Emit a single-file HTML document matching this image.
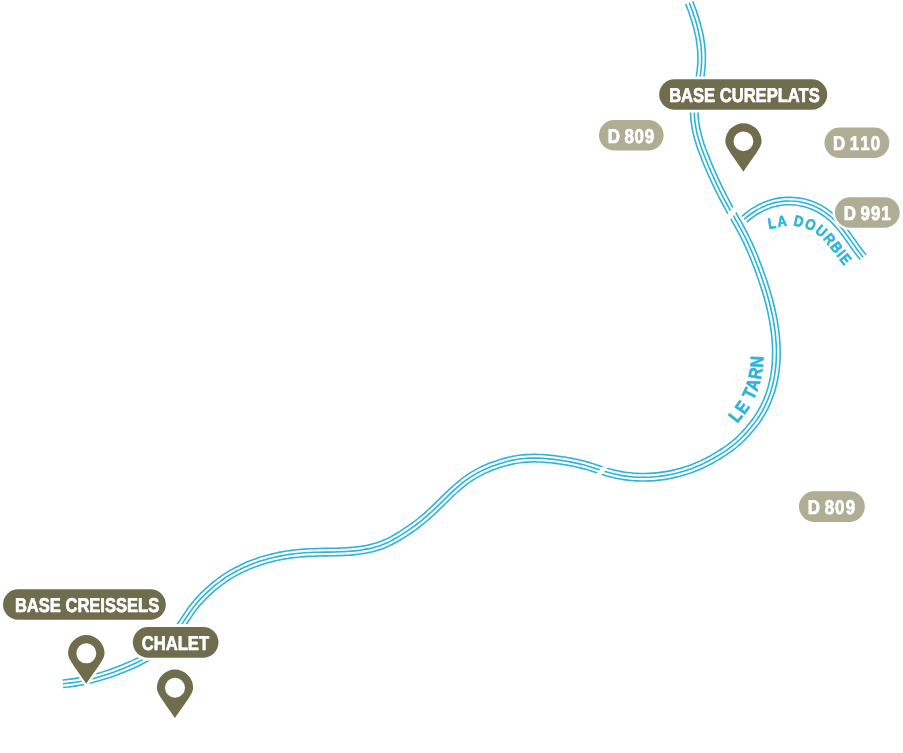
<!DOCTYPE html>
<html lang="fr">
<head>
<meta charset="utf-8">
<title>Carte</title>
<style>
html,body{margin:0;padding:0;background:#fff;}
body{width:903px;height:753px;overflow:hidden;}
svg{display:block;}
</style>
</head>
<body>
<svg width="903" height="753" viewBox="0 0 903 753">
<g fill="none" stroke="#2db4d8" stroke-width="1.60" stroke-linecap="butt" stroke-linejoin="round">
<path d="M685.7 4.1C686.3 5.6 686.9 7.2 687.5 8.7C688.1 10.2 688.7 11.8 689.2 13.3C689.7 14.9 690.3 16.4 690.8 18.0C691.3 19.5 691.8 21.1 692.2 22.6C692.7 24.2 693.2 25.8 693.6 27.4C694.0 28.9 694.4 30.5 694.7 32.1C695.1 33.7 695.5 35.3 695.8 36.9C696.1 38.4 696.4 40.0 696.6 41.6C696.8 43.2 697.1 44.8 697.2 46.4C697.4 48.1 697.6 49.7 697.7 51.3C697.8 52.9 697.9 54.5 697.9 56.1C697.9 57.7 697.9 59.3 697.9 60.9C697.8 62.5 697.8 64.1 697.6 65.7C697.5 67.3 697.4 69.0 697.2 70.6C697.0 72.2 696.8 73.8 696.5 75.4C696.3 77.0 696.0 78.6 695.7 80.2C695.4 81.8 695.1 83.4 694.7 85.0C694.4 86.6 694.0 88.3 693.7 89.9C693.3 91.5 693.0 93.2 692.7 94.9C692.4 96.5 692.0 98.2 691.8 99.9C691.5 101.6 691.3 103.3 691.1 105.1C690.9 106.8 690.7 108.5 690.7 110.3C690.6 112.0 690.6 113.8 690.7 115.6C690.7 117.3 690.9 119.1 691.1 120.8C691.2 122.6 691.5 124.3 691.8 126.0C692.0 127.7 692.4 129.4 692.7 131.1C693.1 132.8 693.5 134.4 693.9 136.1C694.3 137.8 694.8 139.4 695.3 141.1C695.8 142.7 696.3 144.3 696.8 145.9C697.4 147.6 697.9 149.2 698.5 150.8C699.1 152.4 699.7 154.0 700.3 155.5C700.9 157.1 701.5 158.7 702.1 160.2C702.7 161.8 703.4 163.4 704.0 164.9C704.7 166.5 705.3 168.0 706.0 169.6C706.7 171.1 707.3 172.6 708.0 174.2C708.7 175.7 709.4 177.3 710.1 178.8C710.8 180.3 711.5 181.8 712.2 183.4C712.9 184.9 713.6 186.4 714.3 187.9C715.1 189.4 715.8 191.0 716.6 192.5C717.3 194.0 718.1 195.5 718.8 197.0C719.6 198.5 720.4 200.0 721.2 201.5C722.0 202.9 722.8 204.4 723.6 205.9C724.4 207.4 725.2 208.9 726.0 210.3C726.8 211.8 727.6 213.2 728.5 214.7C729.3 216.1 730.1 217.6 730.9 219.0C731.8 220.5 732.6 221.9 733.4 223.4C734.2 224.8 735.0 226.3 735.8 227.7C736.6 229.2 737.4 230.6 738.2 232.1C739.0 233.5 739.7 235.0 740.5 236.5C741.2 237.9 742.0 239.4 742.7 240.9C743.4 242.3 744.1 243.8 744.8 245.3C745.5 246.8 746.2 248.3 746.9 249.8C747.5 251.3 748.2 252.8 748.8 254.3C749.5 255.9 750.1 257.4 750.7 258.9C751.3 260.4 751.9 262.0 752.5 263.5C753.2 265.1 753.7 266.6 754.3 268.1C754.9 269.7 755.5 271.2 756.1 272.8C756.6 274.4 757.2 275.9 757.7 277.5C758.3 279.0 758.8 280.6 759.3 282.2C759.9 283.7 760.4 285.3 760.9 286.9C761.4 288.4 761.9 290.0 762.4 291.6C762.9 293.1 763.3 294.7 763.8 296.3C764.2 297.9 764.7 299.5 765.1 301.1C765.5 302.7 766.0 304.2 766.3 305.8C766.7 307.4 767.1 309.0 767.5 310.6C767.9 312.2 768.2 313.8 768.5 315.4C768.9 317.1 769.2 318.7 769.5 320.3C769.8 321.9 770.1 323.5 770.3 325.1C770.6 326.7 770.8 328.4 771.0 330.0C771.3 331.6 771.5 333.2 771.6 334.9C771.8 336.5 772.0 338.1 772.1 339.7C772.2 341.4 772.3 343.0 772.4 344.6C772.5 346.2 772.6 347.9 772.6 349.5C772.6 351.1 772.6 352.8 772.6 354.4C772.6 356.0 772.6 357.6 772.5 359.3C772.4 360.9 772.3 362.5 772.2 364.1C772.1 365.7 771.9 367.3 771.7 369.0C771.5 370.6 771.3 372.2 771.0 373.8C770.8 375.4 770.5 377.0 770.2 378.5C769.9 380.1 769.5 381.7 769.1 383.3C768.7 384.8 768.3 386.4 767.9 387.9C767.4 389.5 766.9 391.0 766.4 392.6C765.9 394.1 765.3 395.6 764.7 397.1C764.2 398.6 763.5 400.1 762.9 401.5C762.2 403.0 761.5 404.5 760.8 405.9C760.1 407.3 759.3 408.7 758.5 410.1C757.7 411.5 756.9 412.9 756.0 414.2C755.2 415.6 754.3 416.9 753.3 418.2C752.4 419.5 751.4 420.8 750.4 422.1C749.4 423.3 748.3 424.6 747.3 425.8C746.2 427.1 745.2 428.4 744.1 429.6C743.0 430.8 741.9 432.0 740.8 433.2C739.7 434.3 738.6 435.5 737.4 436.6C736.3 437.7 735.1 438.8 733.9 439.8C732.6 440.9 731.4 441.9 730.1 442.9C728.8 443.9 727.5 444.8 726.2 445.8C724.9 446.7 723.6 447.6 722.2 448.5C720.9 449.4 719.5 450.3 718.1 451.2C716.7 452.1 715.3 452.9 713.9 453.7C712.5 454.6 711.1 455.4 709.7 456.2C708.2 456.9 706.8 457.7 705.3 458.4C703.9 459.2 702.4 459.9 701.0 460.6C699.5 461.3 698.0 461.9 696.5 462.6C695.0 463.2 693.5 463.8 692.0 464.4C690.5 465.0 689.0 465.5 687.4 466.1C685.9 466.6 684.3 467.1 682.8 467.6C681.2 468.0 679.7 468.5 678.1 468.9C676.5 469.3 675.0 469.7 673.4 470.1C671.8 470.5 670.2 470.8 668.6 471.1C667.0 471.4 665.4 471.7 663.8 471.9C662.2 472.2 660.6 472.4 659.0 472.6C657.4 472.8 655.8 473.0 654.2 473.1C652.5 473.2 650.9 473.3 649.3 473.4C647.7 473.5 646.1 473.5 644.4 473.5C642.8 473.6 641.2 473.5 639.6 473.5C638.0 473.4 636.3 473.4 634.7 473.3C633.1 473.1 631.5 473.0 629.9 472.8C628.3 472.6 626.7 472.4 625.1 472.2C623.5 472.0 621.9 471.7 620.3 471.4C618.7 471.1 617.1 470.7 615.6 470.4C614.0 470.0 612.4 469.6 610.8 469.2C609.2 468.8 607.7 468.3 606.1 467.9C604.5 467.4 603.0 466.9 601.4 466.4C599.8 465.9 598.2 465.4 596.7 464.9C595.1 464.4 593.5 463.8 591.8 463.3C590.2 462.8 588.6 462.3 586.9 461.9C585.3 461.4 583.6 461.0 582.0 460.6C580.3 460.2 578.7 459.8 577.0 459.4C575.4 459.1 573.7 458.7 572.0 458.4C570.4 458.1 568.7 457.8 567.0 457.5C565.4 457.2 563.7 457.0 562.0 456.7C560.3 456.5 558.7 456.2 557.0 456.0C555.3 455.8 553.6 455.6 551.9 455.4C550.2 455.2 548.6 455.0 546.9 454.9C545.2 454.7 543.5 454.6 541.8 454.5C540.0 454.5 538.3 454.4 536.6 454.4C534.9 454.3 533.2 454.3 531.5 454.4C529.8 454.4 528.0 454.5 526.3 454.6C524.6 454.7 522.9 454.8 521.1 455.0C519.4 455.2 517.7 455.5 516.0 455.8C514.3 456.0 512.6 456.4 510.9 456.7C509.2 457.1 507.6 457.5 505.9 457.9C504.2 458.3 502.6 458.8 500.9 459.3C499.3 459.8 497.7 460.3 496.0 460.9C494.4 461.4 492.8 462.0 491.2 462.6C489.6 463.2 488.0 463.8 486.4 464.5C484.8 465.2 483.3 465.9 481.7 466.6C480.2 467.3 478.6 468.1 477.1 468.9C475.6 469.7 474.1 470.6 472.6 471.4C471.1 472.3 469.6 473.2 468.2 474.2C466.7 475.1 465.3 476.1 463.9 477.2C462.5 478.2 461.2 479.2 459.8 480.3C458.5 481.4 457.2 482.4 455.9 483.6C454.6 484.7 453.3 485.8 452.0 486.9C450.8 488.1 449.5 489.2 448.3 490.4C447.1 491.5 445.9 492.7 444.6 493.9C443.4 495.0 442.2 496.2 441.0 497.4C439.9 498.6 438.7 499.7 437.5 500.9C436.3 502.1 435.1 503.2 433.9 504.4C432.7 505.5 431.5 506.7 430.3 507.8C429.1 508.9 427.9 510.1 426.7 511.2C425.5 512.3 424.3 513.3 423.1 514.4C421.8 515.5 420.6 516.5 419.3 517.5C418.0 518.6 416.7 519.6 415.4 520.6C414.1 521.5 412.8 522.5 411.5 523.5C410.2 524.4 408.8 525.4 407.5 526.3C406.1 527.2 404.8 528.2 403.4 529.1C402.0 530.0 400.6 530.9 399.3 531.8C397.9 532.6 396.5 533.5 395.1 534.3C393.7 535.1 392.3 535.9 390.9 536.7C389.4 537.5 388.0 538.2 386.6 538.9C385.1 539.5 383.7 540.2 382.2 540.8C380.7 541.4 379.2 541.9 377.7 542.4C376.2 542.9 374.7 543.4 373.1 543.8C371.6 544.2 370.0 544.6 368.4 544.9C366.9 545.3 365.3 545.6 363.7 545.9C362.1 546.1 360.5 546.4 358.9 546.6C357.3 546.8 355.7 547.0 354.0 547.2C352.4 547.3 350.8 547.5 349.2 547.6C347.5 547.7 345.9 547.8 344.2 547.9C342.6 548.0 341.0 548.0 339.3 548.1C337.7 548.2 336.0 548.2 334.4 548.2C332.7 548.3 331.0 548.3 329.4 548.3C327.7 548.3 326.0 548.4 324.4 548.4C322.7 548.4 321.0 548.4 319.4 548.5C317.7 548.5 316.0 548.5 314.3 548.6C312.6 548.6 310.9 548.7 309.2 548.8C307.6 548.9 305.9 549.0 304.2 549.1C302.5 549.2 300.8 549.3 299.1 549.5C297.4 549.7 295.7 549.8 294.0 550.0C292.3 550.2 290.7 550.5 289.0 550.7C287.3 550.9 285.6 551.2 283.9 551.5C282.3 551.8 280.6 552.1 278.9 552.4C277.2 552.8 275.6 553.1 273.9 553.5C272.3 553.9 270.6 554.3 269.0 554.7C267.3 555.1 265.7 555.6 264.0 556.1C262.4 556.6 260.8 557.1 259.1 557.6C257.5 558.1 255.9 558.7 254.3 559.2C252.7 559.8 251.1 560.4 249.5 561.1C247.9 561.7 246.3 562.3 244.8 563.0C243.2 563.7 241.6 564.4 240.1 565.2C238.5 565.9 237.0 566.7 235.5 567.5C234.0 568.3 232.5 569.1 231.0 569.9C229.5 570.8 228.0 571.7 226.6 572.6C225.1 573.5 223.7 574.4 222.2 575.4C220.8 576.3 219.4 577.3 218.0 578.3C216.7 579.4 215.3 580.4 214.0 581.5C212.6 582.5 211.3 583.6 210.0 584.8C208.7 585.9 207.4 587.0 206.2 588.2C204.9 589.3 203.7 590.5 202.5 591.7C201.2 592.9 200.0 594.1 198.8 595.3C197.7 596.5 196.5 597.8 195.3 599.1C194.2 600.4 193.1 601.7 192.0 603.0C190.9 604.4 189.8 605.8 188.8 607.2C187.8 608.6 186.9 610.0 185.9 611.4C184.9 612.8 184.0 614.2 183.1 615.6C182.2 617.0 181.3 618.3 180.4 619.7C179.4 621.0 178.5 622.4 177.6 623.7C176.6 625.0 175.6 626.3 174.6 627.5C173.6 628.8 172.6 630.1 171.5 631.3C170.5 632.5 169.4 633.7 168.3 634.9C167.2 636.1 166.0 637.2 164.9 638.4C163.8 639.5 162.6 640.6 161.4 641.7C160.2 642.8 159.0 643.9 157.7 644.9C156.5 645.9 155.2 646.9 154.0 647.9C152.7 648.9 151.4 649.8 150.0 650.7C148.7 651.6 147.4 652.5 146.0 653.4C144.6 654.2 143.3 655.0 141.8 655.8C140.4 656.5 139.0 657.3 137.6 658.0C136.1 658.7 134.6 659.4 133.1 660.1C131.6 660.8 130.1 661.5 128.6 662.1C127.1 662.8 125.6 663.4 124.1 664.1C122.6 664.7 121.0 665.3 119.5 665.9C118.0 666.5 116.4 667.1 114.9 667.7C113.4 668.3 111.8 668.8 110.3 669.4C108.7 669.9 107.2 670.5 105.6 671.0C104.1 671.5 102.5 672.0 100.9 672.5C99.4 672.9 97.8 673.4 96.2 673.8C94.6 674.3 93.0 674.7 91.5 675.1C89.9 675.5 88.3 675.9 86.7 676.2C85.1 676.6 83.5 676.9 81.9 677.2C80.3 677.6 78.7 677.9 77.1 678.1C75.5 678.4 73.8 678.7 72.2 678.9C70.6 679.1 69.0 679.3 67.4 679.5C65.7 679.7 64.1 679.8 62.5 680.0"/>
<path d="M689.2 2.7C689.8 4.3 690.4 5.8 691.0 7.4C691.6 8.9 692.2 10.5 692.7 12.1C693.3 13.6 693.8 15.2 694.3 16.8C694.9 18.4 695.4 20.0 695.8 21.6C696.3 23.2 696.8 24.8 697.2 26.4C697.6 28.0 698.0 29.6 698.4 31.2C698.8 32.9 699.1 34.5 699.4 36.1C699.8 37.8 700.0 39.4 700.3 41.1C700.6 42.7 700.8 44.4 701.0 46.0C701.2 47.7 701.3 49.3 701.4 51.0C701.5 52.7 701.6 54.3 701.6 56.0C701.7 57.7 701.7 59.3 701.6 61.0C701.6 62.7 701.5 64.3 701.4 66.0C701.3 67.7 701.1 69.3 700.9 71.0C700.7 72.6 700.5 74.3 700.2 75.9C700.0 77.6 699.7 79.2 699.4 80.9C699.1 82.5 698.7 84.1 698.4 85.8C698.1 87.4 697.7 89.0 697.4 90.7C697.0 92.3 696.7 93.9 696.4 95.6C696.0 97.2 695.7 98.9 695.5 100.5C695.2 102.1 695.0 103.8 694.8 105.5C694.6 107.1 694.5 108.8 694.4 110.4C694.4 112.1 694.4 113.8 694.4 115.4C694.5 117.1 694.6 118.8 694.8 120.4C695.0 122.1 695.2 123.7 695.5 125.4C695.7 127.0 696.1 128.7 696.4 130.3C696.7 131.9 697.1 133.6 697.5 135.2C698.0 136.8 698.4 138.4 698.9 140.0C699.4 141.6 699.9 143.2 700.4 144.8C700.9 146.4 701.5 147.9 702.0 149.5C702.6 151.1 703.2 152.6 703.8 154.2C704.4 155.7 705.0 157.3 705.6 158.8C706.2 160.4 706.9 161.9 707.5 163.5C708.1 165.0 708.8 166.5 709.4 168.1C710.1 169.6 710.8 171.1 711.4 172.7C712.1 174.2 712.8 175.7 713.5 177.2C714.2 178.8 714.9 180.3 715.6 181.8C716.3 183.3 717.0 184.8 717.7 186.3C718.4 187.8 719.2 189.3 719.9 190.8C720.7 192.3 721.4 193.8 722.2 195.3C722.9 196.7 723.7 198.2 724.5 199.7C725.3 201.2 726.1 202.6 726.9 204.1C727.6 205.6 728.5 207.0 729.3 208.5C730.1 209.9 730.9 211.4 731.7 212.8C732.6 214.3 733.4 215.7 734.2 217.2C735.0 218.6 735.8 220.1 736.7 221.6C737.5 223.0 738.3 224.5 739.1 225.9C739.9 227.4 740.7 228.8 741.5 230.3C742.3 231.8 743.1 233.3 743.8 234.7C744.6 236.2 745.3 237.7 746.1 239.2C746.8 240.7 747.5 242.2 748.2 243.7C748.9 245.2 749.6 246.8 750.3 248.3C751.0 249.8 751.6 251.3 752.3 252.9C752.9 254.4 753.6 256.0 754.2 257.5C754.8 259.0 755.4 260.6 756.0 262.2C756.6 263.7 757.2 265.3 757.8 266.8C758.4 268.4 759.0 269.9 759.6 271.5C760.2 273.1 760.7 274.6 761.3 276.2C761.8 277.8 762.4 279.4 762.9 281.0C763.4 282.5 764.0 284.1 764.5 285.7C765.0 287.3 765.5 288.9 766.0 290.5C766.5 292.1 766.9 293.7 767.4 295.3C767.9 296.9 768.3 298.5 768.7 300.1C769.2 301.7 769.6 303.3 770.0 304.9C770.4 306.6 770.8 308.2 771.1 309.8C771.5 311.4 771.9 313.1 772.2 314.7C772.5 316.3 772.9 318.0 773.2 319.6C773.5 321.2 773.8 322.9 774.0 324.5C774.3 326.2 774.5 327.8 774.8 329.5C775.0 331.1 775.2 332.8 775.4 334.4C775.5 336.1 775.7 337.8 775.8 339.4C776.0 341.1 776.1 342.8 776.2 344.4C776.3 346.1 776.3 347.8 776.4 349.4C776.4 351.1 776.4 352.8 776.4 354.4C776.4 356.1 776.3 357.8 776.2 359.4C776.2 361.1 776.1 362.8 775.9 364.4C775.8 366.1 775.6 367.7 775.4 369.4C775.2 371.1 775.0 372.7 774.7 374.4C774.5 376.0 774.2 377.6 773.9 379.3C773.5 380.9 773.2 382.5 772.8 384.2C772.4 385.8 771.9 387.4 771.5 389.0C771.0 390.6 770.5 392.2 770.0 393.8C769.4 395.3 768.8 396.9 768.2 398.5C767.6 400.0 767.0 401.6 766.3 403.1C765.6 404.6 764.9 406.1 764.1 407.6C763.4 409.1 762.6 410.5 761.8 412.0C760.9 413.4 760.1 414.9 759.2 416.3C758.3 417.7 757.3 419.0 756.4 420.4C755.4 421.8 754.4 423.1 753.3 424.4C752.3 425.7 751.2 427.0 750.2 428.3C749.1 429.5 748.0 430.8 746.9 432.1C745.8 433.3 744.7 434.5 743.5 435.8C742.4 437.0 741.2 438.2 740.0 439.3C738.8 440.5 737.6 441.6 736.3 442.7C735.0 443.7 733.7 444.8 732.4 445.8C731.1 446.8 729.8 447.8 728.4 448.8C727.1 449.8 725.7 450.7 724.3 451.7C722.9 452.6 721.5 453.5 720.1 454.4C718.7 455.3 717.3 456.1 715.8 457.0C714.4 457.8 712.9 458.6 711.5 459.4C710.0 460.3 708.5 461.0 707.1 461.8C705.6 462.5 704.1 463.3 702.6 464.0C701.0 464.7 699.5 465.4 698.0 466.0C696.5 466.7 694.9 467.3 693.3 467.9C691.8 468.5 690.2 469.1 688.6 469.6C687.1 470.2 685.5 470.7 683.9 471.2C682.3 471.6 680.7 472.1 679.1 472.5C677.5 473.0 675.8 473.4 674.2 473.7C672.6 474.1 671.0 474.5 669.3 474.8C667.7 475.1 666.0 475.4 664.4 475.6C662.8 475.9 661.1 476.1 659.4 476.3C657.8 476.5 656.1 476.7 654.5 476.8C652.8 477.0 651.1 477.1 649.5 477.2C647.8 477.2 646.1 477.3 644.5 477.3C642.8 477.3 641.1 477.3 639.5 477.2C637.8 477.2 636.1 477.1 634.5 477.0C632.8 476.9 631.1 476.7 629.5 476.6C627.8 476.4 626.2 476.2 624.5 475.9C622.9 475.7 621.2 475.4 619.6 475.1C618.0 474.7 616.3 474.4 614.7 474.0C613.1 473.6 611.5 473.2 609.9 472.8C608.2 472.4 606.6 471.9 605.0 471.5C603.4 471.0 601.8 470.5 600.2 470.0C598.7 469.5 597.1 469.0 595.5 468.4C593.9 467.9 592.3 467.4 590.7 466.9C589.1 466.4 587.5 466.0 585.9 465.5C584.3 465.1 582.7 464.6 581.1 464.2C579.5 463.8 577.8 463.5 576.2 463.1C574.6 462.8 572.9 462.4 571.3 462.1C569.7 461.8 568.0 461.5 566.4 461.2C564.7 460.9 563.1 460.7 561.4 460.4C559.8 460.2 558.1 459.9 556.5 459.7C554.8 459.5 553.2 459.3 551.5 459.1C549.9 458.9 548.2 458.8 546.5 458.6C544.9 458.5 543.2 458.4 541.6 458.3C539.9 458.2 538.2 458.1 536.6 458.1C534.9 458.1 533.2 458.1 531.6 458.1C529.9 458.1 528.2 458.2 526.6 458.3C524.9 458.4 523.2 458.6 521.6 458.8C519.9 459.0 518.3 459.2 516.6 459.5C515.0 459.7 513.3 460.1 511.7 460.4C510.1 460.7 508.4 461.1 506.8 461.5C505.2 462.0 503.6 462.4 502.0 462.9C500.4 463.4 498.8 463.9 497.2 464.4C495.7 464.9 494.1 465.5 492.5 466.1C491.0 466.7 489.4 467.3 487.9 468.0C486.4 468.6 484.8 469.3 483.3 470.0C481.8 470.7 480.3 471.5 478.8 472.2C477.4 473.0 475.9 473.8 474.5 474.7C473.0 475.5 471.6 476.4 470.2 477.3C468.8 478.2 467.5 479.2 466.1 480.2C464.8 481.2 463.5 482.2 462.2 483.2C460.8 484.3 459.6 485.3 458.3 486.4C457.0 487.5 455.8 488.6 454.5 489.7C453.3 490.8 452.1 492.0 450.9 493.1C449.7 494.3 448.5 495.4 447.3 496.6C446.1 497.7 444.9 498.9 443.7 500.1C442.5 501.2 441.3 502.4 440.1 503.6C438.9 504.7 437.7 505.9 436.5 507.1C435.3 508.2 434.1 509.4 432.9 510.5C431.7 511.7 430.5 512.8 429.2 513.9C428.0 515.1 426.8 516.2 425.5 517.2C424.2 518.3 422.9 519.4 421.7 520.4C420.4 521.5 419.0 522.5 417.7 523.5C416.4 524.5 415.0 525.5 413.7 526.5C412.3 527.5 411.0 528.5 409.6 529.4C408.2 530.3 406.9 531.3 405.5 532.2C404.1 533.1 402.7 534.0 401.3 534.9C399.9 535.8 398.4 536.7 397.0 537.5C395.6 538.4 394.1 539.2 392.6 540.0C391.2 540.8 389.7 541.5 388.2 542.3C386.7 543.0 385.1 543.6 383.6 544.3C382.0 544.9 380.5 545.4 378.9 546.0C377.3 546.5 375.7 547.0 374.1 547.4C372.5 547.8 370.9 548.2 369.2 548.6C367.6 548.9 366.0 549.3 364.3 549.5C362.7 549.8 361.0 550.1 359.4 550.3C357.7 550.5 356.1 550.7 354.4 550.9C352.8 551.1 351.1 551.2 349.4 551.3C347.8 551.4 346.1 551.5 344.4 551.6C342.8 551.7 341.1 551.8 339.4 551.8C337.8 551.9 336.1 551.9 334.4 552.0C332.8 552.0 331.1 552.0 329.4 552.1C327.8 552.1 326.1 552.1 324.4 552.1C322.8 552.2 321.1 552.2 319.4 552.2C317.8 552.3 316.1 552.3 314.4 552.3C312.8 552.4 311.1 552.5 309.4 552.5C307.8 552.6 306.1 552.7 304.4 552.8C302.8 552.9 301.1 553.1 299.4 553.2C297.8 553.4 296.1 553.6 294.5 553.8C292.8 554.0 291.2 554.2 289.5 554.4C287.9 554.7 286.2 554.9 284.6 555.2C282.9 555.5 281.3 555.8 279.6 556.1C278.0 556.4 276.4 556.8 274.8 557.2C273.1 557.5 271.5 557.9 269.9 558.3C268.3 558.8 266.7 559.2 265.1 559.7C263.5 560.1 261.9 560.6 260.3 561.1C258.7 561.7 257.1 562.2 255.6 562.8C254.0 563.3 252.4 563.9 250.9 564.5C249.3 565.2 247.8 565.8 246.3 566.5C244.7 567.1 243.2 567.8 241.7 568.5C240.2 569.3 238.7 570.0 237.2 570.8C235.8 571.6 234.3 572.4 232.8 573.2C231.4 574.0 230.0 574.9 228.5 575.7C227.1 576.6 225.7 577.5 224.3 578.5C223.0 579.4 221.6 580.4 220.3 581.4C218.9 582.3 217.6 583.4 216.3 584.4C215.0 585.4 213.7 586.5 212.5 587.6C211.2 588.7 209.9 589.8 208.7 590.9C207.5 592.1 206.3 593.2 205.1 594.4C203.9 595.5 202.7 596.7 201.5 597.9C200.4 599.1 199.2 600.3 198.1 601.6C197.0 602.8 195.9 604.1 194.9 605.4C193.9 606.7 192.8 608.0 191.9 609.4C190.9 610.7 189.9 612.1 189.0 613.5C188.1 614.9 187.2 616.3 186.2 617.6C185.3 619.0 184.4 620.4 183.5 621.8C182.5 623.2 181.6 624.5 180.6 625.9C179.6 627.2 178.6 628.6 177.5 629.9C176.5 631.2 175.4 632.5 174.4 633.7C173.3 635.0 172.2 636.2 171.0 637.5C169.9 638.7 168.7 639.9 167.5 641.0C166.4 642.2 165.1 643.4 163.9 644.5C162.7 645.6 161.4 646.7 160.1 647.8C158.9 648.8 157.6 649.9 156.2 650.9C154.9 651.9 153.5 652.9 152.2 653.8C150.8 654.8 149.4 655.7 148.0 656.5C146.6 657.4 145.1 658.3 143.6 659.1C142.2 659.9 140.7 660.6 139.2 661.4C137.7 662.1 136.2 662.8 134.7 663.5C133.2 664.2 131.6 664.9 130.1 665.5C128.6 666.2 127.1 666.9 125.5 667.5C124.0 668.2 122.4 668.8 120.9 669.4C119.3 670.0 117.8 670.6 116.2 671.2C114.7 671.8 113.1 672.4 111.5 672.9C109.9 673.5 108.4 674.0 106.8 674.5C105.2 675.1 103.6 675.6 102.0 676.0C100.4 676.5 98.8 677.0 97.2 677.4C95.6 677.9 94.0 678.3 92.4 678.7C90.8 679.1 89.1 679.5 87.5 679.9C85.9 680.3 84.2 680.6 82.6 680.9C81.0 681.2 79.3 681.6 77.7 681.8C76.0 682.1 74.4 682.4 72.7 682.6C71.1 682.8 69.4 683.0 67.8 683.2C66.1 683.4 64.5 683.5 62.8 683.7"/>
<path d="M692.7 1.3C693.3 2.9 693.9 4.5 694.5 6.0C695.1 7.6 695.7 9.2 696.3 10.8C696.8 12.4 697.4 14.0 697.9 15.6C698.4 17.2 698.9 18.9 699.4 20.5C699.9 22.1 700.4 23.8 700.8 25.4C701.3 27.1 701.7 28.7 702.1 30.4C702.4 32.1 702.8 33.7 703.1 35.4C703.4 37.1 703.7 38.8 704.0 40.5C704.3 42.2 704.5 43.9 704.7 45.6C704.9 47.3 705.0 49.0 705.2 50.8C705.3 52.5 705.4 54.2 705.4 55.9C705.4 57.7 705.4 59.4 705.4 61.1C705.3 62.8 705.3 64.6 705.1 66.3C705.0 68.0 704.8 69.7 704.6 71.4C704.5 73.1 704.2 74.8 704.0 76.5C703.7 78.2 703.4 79.9 703.1 81.6C702.7 83.2 702.4 84.9 702.1 86.5C701.7 88.2 701.4 89.8 701.0 91.4C700.7 93.1 700.3 94.7 700.0 96.3C699.7 97.9 699.4 99.5 699.2 101.1C698.9 102.7 698.7 104.3 698.5 105.9C698.4 107.4 698.2 109.0 698.2 110.6C698.1 112.2 698.1 113.7 698.2 115.3C698.2 116.9 698.3 118.5 698.5 120.0C698.7 121.6 698.9 123.2 699.2 124.8C699.4 126.4 699.7 127.9 700.1 129.5C700.4 131.1 700.8 132.7 701.2 134.2C701.6 135.8 702.0 137.4 702.5 138.9C702.9 140.5 703.4 142.0 703.9 143.6C704.5 145.1 705.0 146.7 705.5 148.2C706.1 149.8 706.7 151.3 707.3 152.8C707.8 154.4 708.5 155.9 709.1 157.4C709.7 159.0 710.3 160.5 711.0 162.0C711.6 163.6 712.2 165.1 712.9 166.6C713.5 168.1 714.2 169.6 714.9 171.2C715.5 172.7 716.2 174.2 716.9 175.7C717.6 177.2 718.3 178.7 719.0 180.2C719.7 181.7 720.4 183.2 721.1 184.7C721.8 186.2 722.5 187.6 723.3 189.1C724.0 190.6 724.8 192.1 725.5 193.6C726.3 195.0 727.0 196.5 727.8 197.9C728.6 199.4 729.4 200.9 730.1 202.3C730.9 203.8 731.7 205.2 732.5 206.7C733.4 208.1 734.2 209.5 735.0 211.0C735.8 212.4 736.6 213.9 737.5 215.3C738.3 216.8 739.1 218.3 739.9 219.7C740.8 221.2 741.6 222.6 742.4 224.1C743.2 225.6 744.0 227.1 744.8 228.5C745.6 230.0 746.4 231.5 747.2 233.0C747.9 234.5 748.7 236.0 749.4 237.6C750.2 239.1 750.9 240.6 751.6 242.1C752.3 243.7 753.0 245.2 753.7 246.8C754.4 248.3 755.1 249.9 755.7 251.4C756.4 253.0 757.0 254.5 757.7 256.1C758.3 257.7 758.9 259.2 759.5 260.8C760.1 262.4 760.7 263.9 761.3 265.5C761.9 267.1 762.5 268.6 763.1 270.2C763.7 271.8 764.2 273.4 764.8 275.0C765.4 276.6 765.9 278.2 766.5 279.8C767.0 281.3 767.5 282.9 768.0 284.6C768.6 286.2 769.1 287.8 769.6 289.4C770.0 291.0 770.5 292.6 771.0 294.2C771.5 295.9 771.9 297.5 772.4 299.1C772.8 300.8 773.2 302.4 773.6 304.0C774.0 305.7 774.4 307.3 774.8 309.0C775.2 310.6 775.5 312.3 775.9 313.9C776.2 315.6 776.6 317.3 776.9 318.9C777.2 320.6 777.5 322.3 777.7 323.9C778.0 325.6 778.2 327.3 778.5 329.0C778.7 330.7 778.9 332.4 779.1 334.0C779.3 335.7 779.4 337.4 779.6 339.1C779.7 340.8 779.8 342.5 779.9 344.2C780.0 345.9 780.1 347.6 780.1 349.3C780.1 351.0 780.2 352.8 780.1 354.5C780.1 356.2 780.1 357.9 780.0 359.6C779.9 361.3 779.8 363.0 779.7 364.7C779.5 366.4 779.4 368.1 779.2 369.8C778.9 371.5 778.7 373.2 778.4 374.9C778.2 376.6 777.9 378.3 777.5 380.0C777.2 381.7 776.8 383.4 776.4 385.1C776.0 386.7 775.5 388.4 775.1 390.0C774.6 391.7 774.1 393.3 773.5 395.0C773.0 396.6 772.4 398.2 771.7 399.8C771.1 401.4 770.4 403.0 769.7 404.6C769.0 406.2 768.3 407.7 767.5 409.3C766.7 410.8 765.9 412.4 765.0 413.9C764.2 415.4 763.3 416.8 762.3 418.3C761.4 419.8 760.4 421.2 759.4 422.6C758.4 424.0 757.3 425.4 756.3 426.7C755.2 428.1 754.1 429.4 753.0 430.7C751.9 432.0 750.9 433.3 749.7 434.5C748.6 435.8 747.4 437.1 746.3 438.3C745.1 439.6 743.9 440.8 742.6 442.0C741.3 443.2 740.1 444.4 738.7 445.5C737.4 446.6 736.1 447.7 734.7 448.8C733.4 449.8 732.0 450.9 730.6 451.9C729.2 452.9 727.8 453.8 726.4 454.8C725.0 455.7 723.5 456.6 722.1 457.5C720.6 458.5 719.2 459.3 717.7 460.2C716.3 461.1 714.8 461.9 713.3 462.7C711.8 463.6 710.3 464.4 708.8 465.1C707.2 465.9 705.7 466.7 704.1 467.4C702.6 468.1 701.0 468.8 699.5 469.5C697.9 470.1 696.3 470.8 694.7 471.4C693.1 472.0 691.5 472.6 689.9 473.2C688.2 473.7 686.6 474.2 685.0 474.7C683.3 475.2 681.7 475.7 680.0 476.2C678.4 476.6 676.7 477.0 675.1 477.4C673.4 477.8 671.7 478.1 670.0 478.5C668.4 478.8 666.7 479.1 665.0 479.4C663.3 479.6 661.6 479.9 659.9 480.1C658.2 480.3 656.5 480.4 654.8 480.6C653.1 480.7 651.4 480.8 649.6 480.9C647.9 481.0 646.2 481.0 644.5 481.0C642.8 481.1 641.1 481.0 639.4 481.0C637.6 480.9 635.9 480.9 634.2 480.7C632.5 480.6 630.8 480.5 629.1 480.3C627.4 480.1 625.7 479.9 624.0 479.6C622.3 479.4 620.6 479.1 618.9 478.7C617.2 478.4 615.5 478.1 613.9 477.7C612.2 477.3 610.5 476.9 608.9 476.4C607.2 476.0 605.6 475.5 604.0 475.1C602.3 474.6 600.7 474.1 599.1 473.6C597.5 473.1 595.9 472.5 594.3 472.0C592.7 471.5 591.2 471.0 589.6 470.5C588.0 470.0 586.5 469.6 584.9 469.1C583.4 468.7 581.8 468.3 580.2 467.9C578.6 467.5 577.0 467.1 575.4 466.8C573.8 466.4 572.2 466.1 570.6 465.8C569.0 465.5 567.4 465.2 565.8 464.9C564.1 464.6 562.5 464.4 560.9 464.1C559.3 463.9 557.6 463.6 556.0 463.4C554.4 463.2 552.7 463.0 551.1 462.8C549.5 462.7 547.9 462.5 546.2 462.4C544.6 462.2 543.0 462.1 541.4 462.0C539.7 461.9 538.1 461.9 536.5 461.9C534.9 461.8 533.2 461.8 531.6 461.9C530.0 461.9 528.4 462.0 526.8 462.1C525.2 462.2 523.6 462.3 522.0 462.5C520.4 462.7 518.8 462.9 517.2 463.2C515.6 463.4 514.1 463.7 512.5 464.1C510.9 464.4 509.3 464.8 507.8 465.2C506.2 465.6 504.6 466.0 503.1 466.5C501.5 467.0 500.0 467.4 498.4 468.0C496.9 468.5 495.4 469.0 493.9 469.6C492.3 470.2 490.8 470.8 489.4 471.4C487.9 472.0 486.4 472.7 484.9 473.4C483.5 474.1 482.0 474.8 480.6 475.6C479.2 476.3 477.8 477.1 476.4 477.9C475.0 478.7 473.6 479.6 472.3 480.5C471.0 481.3 469.6 482.3 468.3 483.2C467.0 484.2 465.8 485.1 464.5 486.1C463.2 487.2 462.0 488.2 460.7 489.3C459.5 490.3 458.3 491.4 457.1 492.5C455.8 493.6 454.6 494.7 453.4 495.8C452.2 497.0 451.1 498.1 449.9 499.3C448.7 500.4 447.5 501.6 446.3 502.7C445.1 503.9 443.9 505.1 442.7 506.2C441.5 507.4 440.3 508.6 439.1 509.8C437.9 510.9 436.7 512.1 435.5 513.3C434.3 514.4 433.0 515.6 431.8 516.7C430.5 517.8 429.2 519.0 427.9 520.1C426.6 521.2 425.3 522.3 424.0 523.4C422.7 524.4 421.3 525.5 420.0 526.5C418.6 527.5 417.3 528.6 415.9 529.6C414.5 530.5 413.1 531.5 411.7 532.5C410.3 533.5 408.9 534.4 407.5 535.3C406.1 536.3 404.7 537.2 403.3 538.1C401.8 539.0 400.4 539.9 398.9 540.8C397.4 541.6 395.9 542.5 394.4 543.3C392.9 544.1 391.4 544.9 389.8 545.6C388.2 546.4 386.6 547.1 385.0 547.7C383.4 548.4 381.7 549.0 380.1 549.5C378.4 550.1 376.7 550.6 375.1 551.0C373.4 551.5 371.7 551.9 370.0 552.2C368.4 552.6 366.7 552.9 365.0 553.2C363.3 553.5 361.6 553.8 359.9 554.0C358.2 554.3 356.5 554.4 354.8 554.6C353.1 554.8 351.4 554.9 349.7 555.1C348.0 555.2 346.3 555.3 344.6 555.4C342.9 555.5 341.2 555.5 339.6 555.6C337.9 555.6 336.2 555.7 334.5 555.7C332.8 555.8 331.2 555.8 329.5 555.8C327.8 555.8 326.1 555.9 324.5 555.9C322.8 555.9 321.2 555.9 319.5 556.0C317.8 556.0 316.2 556.0 314.5 556.1C312.9 556.1 311.2 556.2 309.6 556.3C308.0 556.4 306.3 556.4 304.7 556.6C303.1 556.7 301.4 556.8 299.8 557.0C298.2 557.1 296.5 557.3 294.9 557.5C293.3 557.7 291.7 557.9 290.0 558.1C288.4 558.4 286.8 558.6 285.2 558.9C283.6 559.2 282.0 559.5 280.4 559.8C278.8 560.1 277.2 560.5 275.6 560.8C274.0 561.2 272.4 561.6 270.8 562.0C269.3 562.4 267.7 562.8 266.1 563.3C264.6 563.7 263.0 564.2 261.4 564.7C259.9 565.2 258.4 565.7 256.8 566.3C255.3 566.8 253.8 567.4 252.3 568.0C250.7 568.6 249.2 569.2 247.8 569.9C246.3 570.5 244.8 571.2 243.3 571.9C241.9 572.6 240.4 573.4 239.0 574.1C237.5 574.9 236.1 575.6 234.7 576.4C233.3 577.2 231.9 578.1 230.5 578.9C229.2 579.8 227.8 580.7 226.5 581.6C225.1 582.5 223.8 583.4 222.5 584.4C221.2 585.3 219.9 586.3 218.6 587.3C217.4 588.3 216.1 589.4 214.9 590.4C213.7 591.5 212.4 592.6 211.2 593.7C210.0 594.8 208.9 595.9 207.7 597.1C206.5 598.2 205.4 599.3 204.2 600.5C203.1 601.7 202.0 602.9 200.9 604.1C199.9 605.3 198.8 606.5 197.8 607.7C196.8 609.0 195.9 610.3 194.9 611.6C194.0 612.9 193.0 614.2 192.1 615.6C191.2 616.9 190.3 618.3 189.4 619.7C188.5 621.1 187.5 622.5 186.6 623.9C185.6 625.3 184.6 626.7 183.6 628.1C182.6 629.5 181.5 630.9 180.5 632.2C179.4 633.5 178.3 634.9 177.2 636.2C176.1 637.5 174.9 638.7 173.8 640.0C172.6 641.3 171.4 642.5 170.2 643.7C169.0 644.9 167.7 646.1 166.4 647.3C165.2 648.4 163.9 649.6 162.5 650.7C161.2 651.8 159.9 652.8 158.5 653.9C157.1 654.9 155.7 655.9 154.3 656.9C152.9 657.9 151.4 658.8 149.9 659.7C148.5 660.6 147.0 661.5 145.5 662.3C143.9 663.2 142.4 664.0 140.9 664.7C139.3 665.5 137.8 666.2 136.2 666.9C134.7 667.6 133.2 668.3 131.6 669.0C130.1 669.7 128.5 670.3 127.0 671.0C125.4 671.6 123.8 672.3 122.3 672.9C120.7 673.5 119.1 674.1 117.5 674.7C116.0 675.3 114.4 675.9 112.8 676.5C111.2 677.0 109.6 677.6 107.9 678.1C106.3 678.6 104.7 679.1 103.1 679.6C101.5 680.1 99.8 680.6 98.2 681.1C96.6 681.5 94.9 681.9 93.3 682.4C91.6 682.8 90.0 683.2 88.3 683.5C86.7 683.9 85.0 684.3 83.3 684.6C81.7 684.9 80.0 685.2 78.3 685.5C76.6 685.8 75.0 686.1 73.3 686.3C71.6 686.5 69.9 686.8 68.2 687.0C66.5 687.1 64.8 687.3 63.1 687.4"/>
<path d="M746.7 222.1C747.9 221.0 749.1 220.0 750.4 219.0C751.7 218.0 753.0 217.0 754.3 216.1C755.6 215.2 757.0 214.3 758.3 213.5C759.7 212.7 761.1 211.9 762.6 211.2C764.0 210.5 765.4 209.8 766.9 209.2C768.4 208.6 769.9 208.1 771.4 207.6C772.9 207.1 774.5 206.7 776.0 206.3C777.6 205.9 779.1 205.6 780.7 205.4C782.3 205.1 783.8 204.9 785.4 204.8C787.0 204.7 788.6 204.7 790.2 204.7C791.7 204.8 793.3 204.9 794.9 205.0C796.5 205.2 798.1 205.4 799.6 205.7C801.2 206.0 802.8 206.3 804.3 206.7C805.8 207.2 807.4 207.6 808.9 208.2C810.4 208.7 811.8 209.3 813.3 209.9C814.7 210.6 816.2 211.3 817.6 212.0C819.0 212.8 820.4 213.6 821.7 214.5C823.0 215.3 824.3 216.3 825.6 217.2C826.8 218.2 828.1 219.2 829.3 220.3C830.4 221.4 831.6 222.5 832.7 223.6C833.8 224.8 834.9 226.0 836.0 227.2C837.1 228.5 838.1 229.7 839.1 231.0C840.2 232.3 841.2 233.6 842.2 234.9C843.1 236.3 844.1 237.6 845.1 239.0C846.1 240.3 847.0 241.7 848.0 243.1C849.0 244.5 850.0 245.9 850.9 247.2C851.9 248.6 852.9 250.0 853.9 251.4C855.0 252.8 856.0 254.2 857.1 255.5C858.1 256.9 859.2 258.3 860.3 259.6"/>
<path d="M744.2 219.3C745.5 218.2 746.7 217.1 748.1 216.0C749.4 215.0 750.8 214.0 752.2 213.0C753.5 212.1 755.0 211.1 756.4 210.3C757.9 209.4 759.4 208.6 760.9 207.9C762.4 207.1 763.9 206.4 765.5 205.8C767.1 205.1 768.7 204.5 770.3 204.0C771.9 203.5 773.5 203.0 775.1 202.6C776.8 202.2 778.4 201.9 780.1 201.7C781.8 201.4 783.5 201.2 785.2 201.1C786.8 201.0 788.5 200.9 790.2 201.0C791.9 201.0 793.6 201.1 795.3 201.3C797.0 201.5 798.6 201.7 800.3 202.0C802.0 202.3 803.6 202.7 805.3 203.1C806.9 203.6 808.5 204.1 810.1 204.6C811.7 205.2 813.3 205.8 814.8 206.5C816.4 207.2 817.9 207.9 819.4 208.7C820.9 209.5 822.3 210.4 823.7 211.3C825.1 212.2 826.5 213.2 827.9 214.3C829.2 215.3 830.5 216.4 831.8 217.5C833.0 218.6 834.2 219.8 835.4 221.0C836.6 222.2 837.7 223.5 838.8 224.8C839.9 226.0 841.0 227.4 842.1 228.7C843.1 230.0 844.1 231.3 845.2 232.7C846.2 234.0 847.2 235.4 848.2 236.8C849.1 238.2 850.1 239.6 851.1 240.9C852.1 242.3 853.0 243.7 854.0 245.1C855.0 246.5 856.0 247.8 857.0 249.2C858.0 250.6 859.0 251.9 860.0 253.2C861.1 254.6 862.1 255.9 863.2 257.2"/>
<path d="M741.7 216.5C743.0 215.4 744.4 214.2 745.7 213.1C747.1 212.0 748.6 210.9 750.0 209.9C751.5 208.9 753.0 208.0 754.5 207.1C756.1 206.2 757.6 205.3 759.2 204.5C760.8 203.7 762.4 203.0 764.1 202.3C765.7 201.6 767.4 201.0 769.1 200.4C770.8 199.9 772.5 199.4 774.3 199.0C776.0 198.6 777.8 198.2 779.5 197.9C781.3 197.7 783.1 197.5 784.9 197.4C786.7 197.2 788.5 197.2 790.3 197.2C792.1 197.3 793.9 197.4 795.7 197.6C797.5 197.7 799.2 198.0 801.0 198.3C802.7 198.6 804.5 199.0 806.2 199.5C808.0 200.0 809.7 200.5 811.4 201.1C813.0 201.7 814.7 202.3 816.3 203.1C818.0 203.8 819.6 204.6 821.2 205.4C822.7 206.3 824.3 207.2 825.8 208.2C827.3 209.2 828.7 210.2 830.2 211.3C831.6 212.4 833.0 213.5 834.3 214.7C835.6 215.9 836.9 217.1 838.1 218.4C839.3 219.7 840.5 221.0 841.7 222.3C842.8 223.6 843.9 225.0 845.0 226.3C846.1 227.7 847.1 229.1 848.2 230.5C849.2 231.8 850.2 233.2 851.2 234.6C852.2 236.0 853.2 237.4 854.1 238.8C855.1 240.2 856.1 241.5 857.1 242.9C858.0 244.3 859.0 245.6 860.0 247.0C861.0 248.3 862.0 249.7 863.0 251.0C864.0 252.3 865.0 253.5 866.1 254.8"/>
</g>
<g fill="none" stroke="#fff">
<path d="M724.6 222.4L739.3 203.5" stroke-width="5.60"/>
<path d="M609.7 462.1L595.1 478.6" stroke-width="4.60"/>
</g>
<g font-family="'Liberation Sans', sans-serif" font-weight="bold" opacity="0.999" text-rendering="geometricPrecision">
<path id="pt" d="M735.6 425.4C736.2 424.7 736.8 424.0 737.4 423.3C738.1 422.6 738.7 421.9 739.3 421.1C739.9 420.4 740.5 419.7 741.1 418.9C741.8 418.2 742.4 417.5 742.9 416.7C743.5 416.0 744.1 415.3 744.6 414.6C745.2 413.9 745.7 413.1 746.2 412.4C746.7 411.7 747.2 411.0 747.7 410.3C748.2 409.5 748.6 408.8 749.1 408.1C749.6 407.3 750.0 406.6 750.5 405.8C750.9 405.0 751.3 404.3 751.7 403.5C752.2 402.7 752.6 401.9 753.0 401.1C753.4 400.3 753.7 399.5 754.1 398.7C754.5 397.9 754.8 397.1 755.2 396.3C755.5 395.5 755.9 394.6 756.2 393.8C756.5 393.0 756.9 392.1 757.2 391.3C757.5 390.4 757.8 389.6 758.0 388.7C758.3 387.9 758.6 387.0 758.8 386.2C759.1 385.3 759.4 384.4 759.6 383.6C759.8 382.7 760.1 381.8 760.3 380.9C760.5 380.1 760.7 379.2 760.9 378.3C761.1 377.4 761.3 376.5 761.4 375.6C761.6 374.7 761.8 373.8 761.9 372.9C762.0 372.0 762.2 371.1 762.3 370.2C762.4 369.3 762.6 368.4 762.7 367.5C762.8 366.6 762.9 365.7 762.9 364.8C763.0 363.9 763.1 363.0 763.2 362.0C763.2 361.1 763.3 360.2 763.3 359.3C763.4 358.4 763.4 357.4 763.4 356.5C763.5 355.6 763.5 354.7 763.5 353.7C763.5 352.8 763.5 351.9 763.5 350.9C763.5 350.0 763.4 349.1 763.4 348.1C763.4 347.2 763.3 346.3 763.3 345.3" fill="none" stroke="none"/><text font-size="18.30" letter-spacing="1.20" fill="#2db4d8" stroke="#2db4d8" stroke-width="0.60" stroke-linejoin="round"><textPath href="#pt" startOffset="2.50" textLength="75.00" lengthAdjust="spacingAndGlyphs">LE TARN</textPath></text>
<path id="pd" d="M765.3 231.2C765.9 231.0 766.5 230.7 767.2 230.4C767.8 230.2 768.5 229.9 769.2 229.7C769.8 229.4 770.5 229.2 771.2 229.0C771.9 228.8 772.6 228.5 773.3 228.3C774.0 228.2 774.7 228.0 775.4 227.8C776.2 227.6 776.9 227.4 777.6 227.3C778.4 227.1 779.1 227.0 779.8 226.9C780.6 226.7 781.3 226.6 782.1 226.5C782.9 226.4 783.6 226.3 784.4 226.2C785.1 226.2 785.9 226.1 786.7 226.0C787.4 226.0 788.2 226.0 788.9 225.9C789.7 225.9 790.5 225.9 791.2 225.9C792.0 225.9 792.8 226.0 793.5 226.0C794.3 226.0 795.0 226.1 795.8 226.2C796.5 226.3 797.3 226.3 798.0 226.4C798.8 226.6 799.5 226.7 800.2 226.8C801.0 227.0 801.7 227.1 802.4 227.3C803.1 227.5 803.8 227.7 804.5 227.9C805.2 228.1 805.9 228.4 806.6 228.6C807.3 228.9 808.0 229.1 808.6 229.4C809.3 229.7 809.9 230.0 810.6 230.4C811.2 230.7 811.9 231.0 812.5 231.4C813.1 231.8 813.7 232.2 814.3 232.6C814.9 233.0 815.5 233.4 816.1 233.8C816.7 234.2 817.3 234.7 817.9 235.1C818.4 235.6 819.0 236.0 819.6 236.5C820.1 237.0 820.7 237.5 821.2 238.0C821.7 238.5 822.3 239.0 822.8 239.6C823.3 240.1 823.9 240.6 824.4 241.2C824.9 241.7 825.4 242.2 825.9 242.8C826.4 243.4 826.9 243.9 827.4 244.5C827.9 245.1 828.4 245.7 828.9 246.2C829.4 246.8 829.9 247.4 830.4 248.0C830.8 248.6 831.3 249.2 831.8 249.8C832.3 250.4 832.7 251.0 833.2 251.6C833.7 252.2 834.1 252.8 834.6 253.4C835.0 254.0 835.5 254.6 835.9 255.2C836.4 255.8 836.8 256.4 837.3 257.1C837.8 257.7 838.2 258.3 838.6 258.9C839.1 259.4 839.5 260.0 840.0 260.6C840.4 261.2 840.9 261.8 841.3 262.4C841.8 263.0 842.2 263.5 842.7 264.1C843.1 264.7 843.6 265.2 844.0 265.8C844.4 266.3 844.9 266.9 845.3 267.4C845.8 268.0 846.2 268.5 846.7 269.0" fill="none" stroke="none"/><text font-size="15.20" letter-spacing="1.50" fill="#2db4d8" stroke="#2db4d8" stroke-width="0.60" stroke-linejoin="round"><textPath href="#pd" startOffset="4.00" textLength="93.50" lengthAdjust="spacingAndGlyphs">LA DOURBIE</textPath></text>
<rect x="656.50" y="76.50" width="173.40" height="36.00" rx="18.00" ry="18.00" fill="#fff"/><rect x="659.20" y="79.20" width="168.00" height="30.60" rx="15.30" ry="15.30" fill="#706c4e"/><text transform="translate(669.13 102) scale(0.8317 1)" font-size="19.91" fill="#fff" stroke="#fff" stroke-width="0.70" stroke-linejoin="round">BASE CUREPLATS</text>
<rect x="596.40" y="117.40" width="69.80" height="35.60" rx="17.80" ry="17.80" fill="#fff"/><rect x="599.00" y="120.00" width="64.60" height="30.40" rx="15.20" ry="15.20" fill="#b0ad95"/><text transform="translate(0 143) scale(0.8500 1)" x="715.08 729.46 734.78 746.46 758.67" font-size="19.91" fill="#fff" stroke="#fff" stroke-width="0.70" stroke-linejoin="round">D 809</text>
<rect x="821.90" y="124.90" width="70.00" height="35.60" rx="17.80" ry="17.80" fill="#fff"/><rect x="824.50" y="127.50" width="64.80" height="30.40" rx="15.20" ry="15.20" fill="#b0ad95"/><text transform="translate(0 150) scale(0.8500 1)" x="980.15 994.53 999.76 1012.11 1024.49" font-size="19.91" fill="#fff" stroke="#fff" stroke-width="0.70" stroke-linejoin="round">D 110</text>
<rect x="832.60" y="194.90" width="69.40" height="35.10" rx="17.55" ry="17.55" fill="#fff"/><rect x="834.90" y="197.20" width="64.80" height="30.50" rx="15.25" ry="15.25" fill="#b0ad95"/><text transform="translate(0 220) scale(0.8500 1)" x="992.73 1007.11 1012.49 1024.67 1036.76" font-size="19.91" fill="#fff" stroke="#fff" stroke-width="0.70" stroke-linejoin="round">D 991</text>
<rect x="796.40" y="488.60" width="71.00" height="35.90" rx="17.95" ry="17.95" fill="#fff"/><rect x="799.00" y="491.20" width="65.80" height="30.70" rx="15.35" ry="15.35" fill="#b0ad95"/><text transform="translate(0 514) scale(0.8500 1)" x="950.38 964.76 970.25 982.46 995.14" font-size="19.91" fill="#fff" stroke="#fff" stroke-width="0.70" stroke-linejoin="round">D 809</text>
<rect x="0.40" y="586.60" width="168.00" height="35.70" rx="17.85" ry="17.85" fill="#fff"/><rect x="3.00" y="589.20" width="162.80" height="30.50" rx="15.25" ry="15.25" fill="#706c4e"/><text transform="translate(14.88 612) scale(0.8310 1)" font-size="19.91" fill="#fff" stroke="#fff" stroke-width="0.70" stroke-linejoin="round">BASE CREISSELS</text>
<rect x="129.90" y="624.10" width="91.50" height="36.50" rx="18.25" ry="18.25" fill="#fff"/><rect x="132.80" y="627.00" width="85.70" height="30.70" rx="15.35" ry="15.35" fill="#706c4e"/><text transform="translate(141.63 650) scale(0.8349 1)" font-size="19.93" fill="#fff" stroke="#fff" stroke-width="0.70" stroke-linejoin="round">CHALET</text>
<path d="M743.45 171.70C731.89 154.70 725.35 147.35 725.35 141.35A18.10 18.10 0 0 1 761.55 141.35C761.55 147.35 755.01 154.70 743.45 171.70Z" fill="#fff" stroke="#fff" stroke-width="5.00" stroke-linejoin="round"/><path d="M743.45 171.70C731.89 154.70 725.35 147.35 725.35 141.35A18.10 18.10 0 0 1 761.55 141.35C761.55 147.35 755.01 154.70 743.45 171.70ZM733.55 141.35a9.90 9.90 0 1 0 19.80 0a9.90 9.90 0 1 0 -19.80 0Z" fill="#706c4e" fill-rule="evenodd"/>
<path d="M86.30 683.70C74.74 666.70 68.10 659.30 68.10 653.30A18.20 18.20 0 0 1 104.50 653.30C104.50 659.30 97.86 666.70 86.30 683.70Z" fill="#fff" stroke="#fff" stroke-width="5.00" stroke-linejoin="round"/><path d="M86.30 683.70C74.74 666.70 68.10 659.30 68.10 653.30A18.20 18.20 0 0 1 104.50 653.30C104.50 659.30 97.86 666.70 86.30 683.70ZM76.30 653.30a10.00 10.00 0 1 0 20.00 0a10.00 10.00 0 1 0 -20.00 0Z" fill="#706c4e" fill-rule="evenodd"/>
<path d="M175.00 718.00C163.44 701.00 156.90 693.70 156.90 687.70A18.10 18.10 0 0 1 193.10 687.70C193.10 693.70 186.56 701.00 175.00 718.00Z" fill="#fff" stroke="#fff" stroke-width="5.00" stroke-linejoin="round"/><path d="M175.00 718.00C163.44 701.00 156.90 693.70 156.90 687.70A18.10 18.10 0 0 1 193.10 687.70C193.10 693.70 186.56 701.00 175.00 718.00ZM165.00 687.70a10.00 10.00 0 1 0 20.00 0a10.00 10.00 0 1 0 -20.00 0Z" fill="#706c4e" fill-rule="evenodd"/>
</g>
</svg>
</body>
</html>
